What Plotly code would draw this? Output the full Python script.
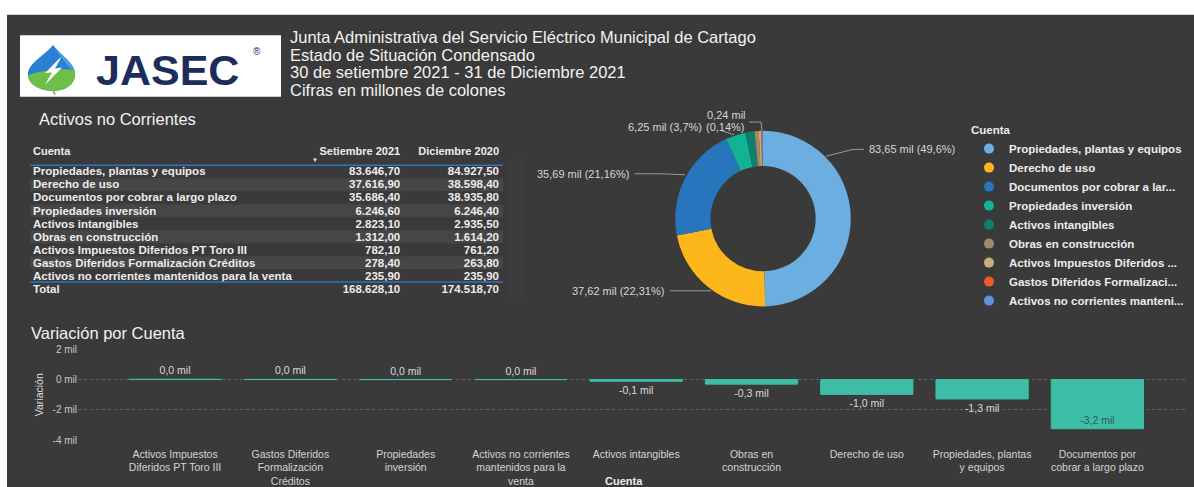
import plotly.graph_objects as go

W, H = 1194, 487
def X(px): return px / W
def Y(py): return 1 - py / H

# ---------------- data ----------------
CATEGORIES = [
    "Propiedades, plantas y equipos",
    "Derecho de uso",
    "Documentos por cobrar a largo plazo",
    "Propiedades inversión",
    "Activos intangibles",
    "Obras en construcción",
    "Activos Impuestos Diferidos PT Toro III",
    "Gastos Diferidos Formalización Créditos",
    "Activos no corrientes mantenidos para la venta",
]
SEPT_2021 = [83646.7, 37616.9, 35686.4, 6246.6, 2823.1, 1312.0, 782.1, 278.4, 235.9]
DIC_2020 = [84927.5, 38598.4, 38935.8, 6246.4, 2935.5, 1614.2, 761.2, 263.8, 235.9]
TABLE_HEADER = ["Cuenta", "Setiembre 2021", "Diciembre 2020"]
LEGEND_LABELS = [
    "Propiedades, plantas y equipos",
    "Derecho de uso",
    "Documentos por cobrar a lar...",
    "Propiedades inversión",
    "Activos intangibles",
    "Obras en construcción",
    "Activos Impuestos Diferidos ...",
    "Gastos Diferidos Formalizaci...",
    "Activos no corrientes manteni...",
]
BAR_TICK_LABELS = {
    "Activos Impuestos Diferidos PT Toro III": "Activos Impuestos<br>Diferidos PT Toro III",
    "Gastos Diferidos Formalización Créditos": "Gastos Diferidos<br>Formalización<br>Créditos",
    "Propiedades inversión": "Propiedades<br>inversión",
    "Activos no corrientes mantenidos para la venta": "Activos no corrientes<br>mantenidos para la<br>venta",
    "Activos intangibles": "Activos intangibles",
    "Obras en construcción": "Obras en<br>construcción",
    "Derecho de uso": "Derecho de uso",
    "Propiedades, plantas y equipos": "Propiedades, plantas<br>y equipos",
    "Documentos por cobrar a largo plazo": "Documentos por<br>cobrar a largo plazo",
}
Y_TICKS = [2000, 0, -2000, -4000]
TITLE_LINES = [
    "Junta Administrativa del Servicio Eléctrico Municipal de Cartago",
    "Estado de Situación Condensado",
    "30 de setiembre 2021 - 31 de Diciembre 2021",
    "Cifras en millones de colones",
]

# ---------------- style ----------------
BG = "#3a3a3a"
STRIPE = "#464646"
CLEAR = "rgba(0,0,0,0)"
FONT = "Arial, Liberation Sans, sans-serif"
TXT = "#ececec"
PIE_COLORS = ["#6caee0", "#fdb71a", "#2775bd", "#12b394", "#11806a",
              "#a4886c", "#c6af7a", "#ec5a2a", "#5f93db"]
BAR_COLOR = "#3cbfa6"
BLUE_LINE = "#2f74c0"
NBSP = "\u00a0"

def nowrap(s):
    return s.replace(" ", NBSP)

def fmt_num(v):
    s = f"{v:,.2f}"
    return s.replace(",", "X").replace(".", ",").replace("X", ".")

def fmt_mil(v, d):
    return f"{v/1000:.{d}f}".replace(".", ",") + " mil"

def fmt_pct(p):
    s = f"{p:.2f}".rstrip("0").rstrip(".")
    return s.replace(".", ",") + "%"

total_sept = sum(SEPT_2021)
total_dic = sum(DIC_2020)

fig = go.Figure()

# ---------------- table ----------------
ROW_H = 13.3        # visual row pitch (px) used for banding / separators
TABLE_ROW_H = 13.1  # declared row height (renders at the visual pitch)
HDR_TOP = 136
HDR_H = 20
ROW1 = 170  # centre of first data row (px)
col1 = [nowrap(c) for c in CATEGORIES] + ["Total"]
col2 = [fmt_num(v) for v in SEPT_2021] + [fmt_num(total_sept)]
col3 = [fmt_num(v) for v in DIC_2020] + [fmt_num(total_dic)]
fig.add_trace(go.Table(
    domain=dict(x=[X(25), X(508)], y=[Y(302), Y(HDR_TOP)]),
    columnwidth=[285, 99, 99],
    header=dict(values=[nowrap(h) for h in TABLE_HEADER],
                align=["left", "right", "right"], fill_color=BG, line_width=0, height=HDR_H,
                font=dict(family=FONT, size=11, color=TXT, weight="bold")),
    cells=dict(values=[col1, col2, col3], align=["left", "right", "right"],
               fill_color=CLEAR, line_width=0, height=TABLE_ROW_H,
               font=dict(family=FONT, size=11.5, color=TXT, weight="bold")),
))

# ---------------- donut ----------------
CX, CY, R = 763, 218, 90
fig.add_trace(go.Pie(
    labels=CATEGORIES, values=SEPT_2021, hole=0.6, sort=False, direction="clockwise",
    rotation=0, textinfo="none", showlegend=False, hoverinfo="label+value+percent",
    marker=dict(colors=PIE_COLORS, line=dict(width=0)),
    domain=dict(x=[X(CX - R), X(CX + R)], y=[Y(CY + R), Y(CY - R)]),
))

# ---------------- bar (variation) ----------------
variation = [s - d for s, d in zip(SEPT_2021, DIC_2020)]
order = sorted(range(len(CATEGORIES)), key=lambda i: -variation[i])
bar_cats = [CATEGORIES[i] for i in order]
bar_vals = [variation[i] for i in order]
bar_text = [fmt_mil(v, 1) for v in bar_vals]
minv = min(bar_vals)
bar_pos = ["inside" if v == minv else "outside" for v in bar_vals]
fig.add_trace(go.Bar(
    x=bar_cats, y=bar_vals, width=0.8, text=bar_text, textposition=bar_pos,
    insidetextanchor="end", cliponaxis=False, showlegend=False,
    marker=dict(color=BAR_COLOR, line=dict(color=BAR_COLOR, width=1)),
    outsidetextfont=dict(family=FONT, size=10.5, color="#dadada"),
    insidetextfont=dict(family=FONT, size=10.5, color="#2f5e56"),
))

# legend entries (circle markers, as in the reference)
for lab, col in zip(LEGEND_LABELS, PIE_COLORS):
    fig.add_trace(go.Scatter(x=[None], y=[None], mode="markers", name=lab,
                             marker=dict(symbol="circle", size=10, color=col),
                             hoverinfo="skip", showlegend=True))

# ---------------- annotations ----------------
ann = []
def add_text(text, x, y, size, color=TXT, xanchor="left", yanchor="middle", bold=False):
    ann.append(dict(text=text, x=X(x), y=Y(y), xref="paper", yref="paper",
                    xanchor=xanchor, yanchor=yanchor, showarrow=False,
                    font=dict(family=FONT, size=size, color=color,
                              weight="bold" if bold else "normal")))

for i, line in enumerate(TITLE_LINES):
    add_text(line, 288, 32 + i * 18, 16.5, "#f2f2f2")
add_text("Activos no Corrientes", 37, 116, 16.5, "#f2f2f2")
add_text("Variación por Cuenta", 29, 335, 16.5, "#f2f2f2")
add_text("▼", 315, 158, 6, TXT, xanchor="center")

# logo text
ann.append(dict(text="<b>JASEC</b>", x=X(94), y=Y(66), xref="paper", yref="paper",
                xanchor="left", yanchor="middle", showarrow=False,
                font=dict(family=FONT, size=43, color="#1c2d5c")))
add_text("®", 257, 47, 10, "#1c2d5c", xanchor="center")

# donut labels
vals_mil = [fmt_mil(v, 2) for v in SEPT_2021]
pcts = [fmt_pct(v / total_sept * 100) for v in SEPT_2021]
PCOL = "#d6d6d6"
add_text(f"{vals_mil[0]} ({pcts[0]})", 867, 147, 11, PCOL)
add_text(f"{vals_mil[2]} ({pcts[2]})", 631, 172, 11, PCOL, xanchor="right")
add_text(f"{vals_mil[1]} ({pcts[1]})", 666, 292, 11, PCOL, xanchor="right")
add_text(f"{vals_mil[3]} ({pcts[3]})", 704, 124, 11, PCOL, xanchor="right")
add_text(f"{vals_mil[8]}", 726, 112, 11, PCOL, xanchor="center")
add_text(f"({pcts[8]})", 704, 124, 11, PCOL, xanchor="left")

# x-axis title at the bottom edge
add_text("Cuenta", 624, 479, 11, TXT, xanchor="center", yanchor="top", bold=True)

# ---------------- shapes ----------------
def pth(s):
    out = []
    for tok in s.split():
        if "," in tok:
            a, b = tok.split(",")
            out.append(f"{X(float(a)):.5f},{Y(float(b)):.5f}")
        else:
            out.append(tok)
    return " ".join(out)

shapes = [
    dict(type="rect", xref="paper", yref="paper", x0=-0.05, x1=1.05, y0=Y(9), y1=1.1,
         fillcolor="white", line_width=0, layer="above"),
    dict(type="rect", xref="paper", yref="paper", x0=-0.05, x1=X(7), y0=-0.1, y1=1.1,
         fillcolor="white", line_width=0, layer="above"),
    dict(type="rect", xref="paper", yref="paper", x0=X(20), x1=X(281), y0=Y(93), y1=Y(30),
         fillcolor="white", line_width=0, layer="above"),
    # drop
    dict(type="path", xref="paper", yref="paper", layer="above", line_width=0, fillcolor="#2b7fd4",
         path=pth("M 53,40 C 60,50 75,58 75,70 C 75,81 65,87 53,87 C 41,87 28,81 28,70 C 28,58 46,50 53,40 Z")),
    dict(type="path", xref="paper", yref="paper", layer="above", line_width=0, fillcolor="#4aa0e6",
         path=pth("M 53,40 C 60,50 75,58 75,70 C 70,62 62,56 53,40 Z")),
    dict(type="path", xref="paper", yref="paper", layer="above", line_width=0, fillcolor="#6dbf48",
         path=pth("M 28,71 C 42,66 62,63 75,66 C 75,69 75,70 75,70 C 75,81 65,87 53,87 C 41,87 28,81 28,71 Z")),
    dict(type="path", xref="paper", yref="paper", layer="above", line_width=1.5, line_color="#6dbf48",
         path=pth("M 53,86 L 55,91")),
    dict(type="path", xref="paper", yref="paper", layer="above", line_width=0, fillcolor="white",
         path=pth("M 60,53 L 45,69 L 52,68 L 45,81 L 62,63 L 55,64 L 61,53 Z")),
    # table separators
    dict(type="line", xref="paper", yref="paper", x0=X(30), x1=X(503),
         y0=Y(ROW1 - ROW_H / 2), y1=Y(ROW1 - ROW_H / 2),
         line=dict(color=BLUE_LINE, width=1.5), layer="above"),
    dict(type="line", xref="paper", yref="paper", x0=X(30), x1=X(503),
         y0=Y(ROW1 + ROW_H * (len(CATEGORIES) - 0.5)), y1=Y(ROW1 + ROW_H * (len(CATEGORIES) - 0.5)),
         line=dict(color=BLUE_LINE, width=1.5), layer="above"),
]
# alternating row banding of the table
for k in range(1, len(CATEGORIES), 2):
    c = ROW1 + ROW_H * k
    shapes.append(dict(type="rect", xref="paper", yref="paper", layer="below",
                       x0=X(30), x1=X(503), y0=Y(c + ROW_H / 2), y1=Y(c - ROW_H / 2),
                       fillcolor=STRIPE, line_width=0))

# donut leader lines
LCOL = "#9a9a9a"
leaders = [
    "M 826,154 L 853,147 L 864,147",
    "M 635,172 L 660,172 L 685,173",
    "M 670,292 L 695,292 L 711,292",
    "M 722,128 L 734,132",
    "M 749,119 L 761,119 L 762,128",
]
for s in leaders:
    shapes.append(dict(type="path", xref="paper", yref="paper", layer="above",
                       path=pth(s), line=dict(color=LCOL, width=1)))

fig.update_layout(
    width=W, height=H, margin=dict(l=0, r=0, t=0, b=0),
    paper_bgcolor=BG, plot_bgcolor=BG,
    font=dict(family=FONT, color=TXT),
    annotations=ann, shapes=shapes,
    bargap=0.2,
    legend=dict(x=X(969), y=Y(116), xanchor="left", yanchor="top",
                bgcolor="rgba(0,0,0,0)", tracegroupgap=0,
                title=dict(text="<b>Cuenta</b>", font=dict(family=FONT, size=11.5, color=TXT)),
                font=dict(family=FONT, size=11.5, color=TXT, weight="bold")),
    xaxis=dict(domain=[X(78), X(1185)], range=[-0.842, 8.76], type="category",
               tickvals=bar_cats, ticktext=[BAR_TICK_LABELS[c] for c in bar_cats],
               tickfont=dict(family=FONT, size=10.5, color="#d4d4d4"),
               ticklabelstandoff=6,
               showgrid=False, zeroline=False, showline=False, ticks=""),
    yaxis=dict(domain=[Y(445), Y(352)], range=[-4000, 2000],
               tickvals=Y_TICKS, ticktext=[f"{v // 1000} mil" for v in Y_TICKS],
               tickfont=dict(family=FONT, size=10, color="#c8c8c8"),
               gridcolor="#626262", griddash="dot", gridwidth=1,
               zeroline=False, showline=False, ticks="",
               title=dict(text="Variación", standoff=6,
                          font=dict(family=FONT, size=10.5, color="#dddddd"))),
)

fig.write_html("out.html", config={"displayModeBar": False},
               post_script="document.body.style.margin='0';document.body.style.overflow='hidden';")
